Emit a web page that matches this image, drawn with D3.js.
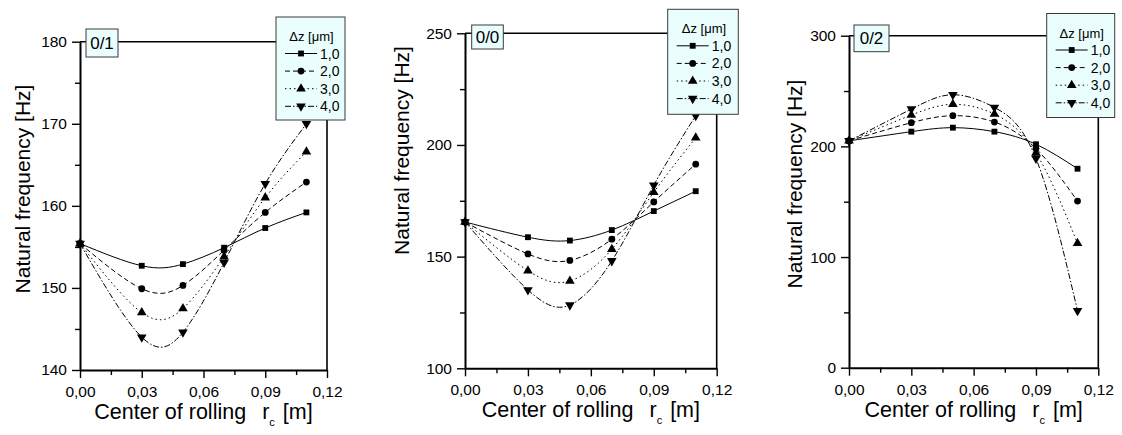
<!DOCTYPE html>
<html>
<head>
<meta charset="utf-8">
<script src="https://cdn.jsdelivr.net/npm/d3@7"></script>
<style>
  html, body { margin: 0; padding: 0; background: #fff; }
  svg { display: block; font-family: "Liberation Sans", Arial, sans-serif; }
</style>
</head>
<body>
<svg id="chart" width="1122" height="435"></svg>
<script>
// Center of rolling r_c [m] at which the natural frequency was computed
const xValues = [0, 0.03, 0.05, 0.07, 0.09, 0.11];

// Δz [µm] series labels
const seriesLabels = ["1,0", "2,0", "3,0", "4,0"];

// Mode labels of the three panels
const modeLabels = ["0/1", "0/0", "0/2"];

// Natural frequency [Hz], mode 0/1 (one row per Δz)
const freqMode01_dz1 = [155.4, 152.7, 152.9, 154.9, 157.3, 159.2];
const freqMode01_dz2 = [155.4, 149.9, 150.3, 154.6, 159.2, 162.9];
const freqMode01_dz3 = [155.4, 147.0, 147.5, 153.8, 161.0, 166.6];
const freqMode01_dz4 = [155.4, 144.0, 144.6, 153.1, 162.7, 170.0];

// Natural frequency [Hz], mode 0/0
const freqMode00_dz1 = [165.5, 158.7, 157.2, 161.9, 170.4, 179.3];
const freqMode00_dz2 = [165.5, 151.2, 148.3, 157.8, 174.5, 191.4];
const freqMode00_dz3 = [165.5, 143.7, 139.1, 153.3, 178.8, 203.2];
const freqMode00_dz4 = [165.5, 135.1, 128.3, 148.1, 182.0, 213.1];

// Natural frequency [Hz], mode 0/2
const freqMode02_dz1 = [205.0, 213.3, 216.9, 213.3, 201.9, 179.8];
const freqMode02_dz2 = [205.0, 221.4, 227.7, 222.0, 198.0, 150.6];
const freqMode02_dz3 = [205.0, 228.3, 238.0, 229.2, 194.0, 112.4];
const freqMode02_dz4 = [205.0, 233.7, 246.7, 235.2, 189.0, 51.5];

// Axis ticks
const xTickValues = [0, 0.03, 0.06, 0.09, 0.12];
const xTickLabels = ["0,00", "0,03", "0,06", "0,09", "0,12"];
const xMinorTicks = [0.015, 0.045, 0.075, 0.105];
const yTicksMode01 = [140, 150, 160, 170, 180];
const yMinorMode01 = [145, 155, 165, 175];
const yTicksMode00 = [100, 150, 200, 250];
const yMinorMode00 = [125, 175, 225];
const yTicksMode02 = [0, 100, 200, 300];
const yMinorMode02 = [50, 150, 250];

const panelsData = [
  { mode: modeLabels[0], series: [freqMode01_dz1, freqMode01_dz2, freqMode01_dz3, freqMode01_dz4],
    yTicks: yTicksMode01, yMinor: yMinorMode01 },
  { mode: modeLabels[1], series: [freqMode00_dz1, freqMode00_dz2, freqMode00_dz3, freqMode00_dz4],
    yTicks: yTicksMode00, yMinor: yMinorMode00 },
  { mode: modeLabels[2], series: [freqMode02_dz1, freqMode02_dz2, freqMode02_dz3, freqMode02_dz4],
    yTicks: yTicksMode02, yMinor: yMinorMode02 }
];

// Frame geometry of each panel (pixels)
const panelLayout = [
  { left: 80,  right: 327,    top: 41.7, bottom: 370,
    legend: { x: 276,    y: 17,   w: 69, h: 103 },
    tag:    { x: 86,     y: 29,   w: 32, h: 28 },
    yTitleX: 30,  yTitleY: 189 },
  { left: 465, right: 716.7,  top: 33.3, bottom: 368.3,
    legend: { x: 667.7,  y: 9.3,  w: 70.6, h: 105 },
    tag:    { x: 471.7,  y: 25,   w: 31.6, h: 24 },
    yTitleX: 409, yTitleY: 150.5 },
  { left: 849, right: 1098.3, top: 35.7, bottom: 367.7,
    legend: { x: 1046.7, y: 13.5, w: 68, h: 104 },
    tag:    { x: 854,    y: 25,   w: 35, h: 26.7 },
    yTitleX: 802, yTitleY: 184 }
];

// Line style and marker for each Δz series
const dashes = [null, "5,3", "1.5,3", "6,2,1.5,2"];
const symbols = [
  { type: d3.symbolSquare,   size: 34, rot: 0 },
  { type: d3.symbolCircle,   size: 36, rot: 0 },
  { type: d3.symbolTriangle, size: 40, rot: 0 },
  { type: d3.symbolTriangle, size: 40, rot: 180 }
];

const boxFill = "#eafefe";
const boxStroke = "#3a3a3a";

const svg = d3.select("#chart");

panelsData.forEach((pd, pi) => {
  const L = panelLayout[pi];
  const g = svg.append("g");

  const x = d3.scaleLinear().domain([0, 0.12]).range([L.left, L.right]);
  const yDom = d3.extent(pd.yTicks);
  const y = d3.scaleLinear().domain(yDom).range([L.bottom, L.top]);

  // Top and right frame lines
  g.append("line")
    .attr("x1", L.left).attr("x2", L.legend.x)
    .attr("y1", L.top).attr("y2", L.top)
    .attr("stroke", "#000").attr("stroke-width", 1.6);
  g.append("line")
    .attr("x1", L.right).attr("x2", L.right)
    .attr("y1", L.legend.y + L.legend.h).attr("y2", L.bottom)
    .attr("stroke", "#000").attr("stroke-width", 1.6);

  // Data curves
  const line = d3.line()
    .x((d, i) => x(xValues[i]))
    .y(d => y(d))
    .curve(d3.curveNatural);

  pd.series.forEach((vals, si) => {
    g.append("path")
      .attr("d", line(vals))
      .attr("fill", "none")
      .attr("stroke", "#000")
      .attr("stroke-width", 1)
      .attr("stroke-dasharray", dashes[si]);
  });

  pd.series.forEach((vals, si) => {
    const sym = d3.symbol().type(symbols[si].type).size(symbols[si].size);
    g.selectAll(null)
      .data(vals)
      .join("path")
      .attr("d", sym())
      .attr("transform", (d, i) => `translate(${x(xValues[i])},${y(d)}) rotate(${symbols[si].rot})`)
      .attr("fill", "#000");
  });

  // Bottom axis
  const xAxis = d3.axisBottom(x)
    .tickValues(xTickValues)
    .tickFormat((d, i) => xTickLabels[i])
    .tickSize(8).tickSizeOuter(0).tickPadding(8);
  const gx = g.append("g").attr("transform", `translate(0,${L.bottom})`).call(xAxis);
  gx.selectAll(".tick line").attr("stroke-width", 1.4);
  gx.select(".domain").attr("stroke-width", 2);
  gx.selectAll("text").attr("font-size", 15.5).attr("font-family", "Liberation Sans, Arial, sans-serif").attr("fill", "#000");
  const xMinor = d3.axisBottom(x).tickValues(xMinorTicks).tickFormat("").tickSize(5).tickSizeOuter(0);
  const gxm = g.append("g").attr("transform", `translate(0,${L.bottom})`).call(xMinor);
  gxm.select(".domain").remove();
  gxm.selectAll(".tick line").attr("stroke-width", 1.4);

  // Left axis
  const yAxis = d3.axisLeft(y)
    .tickValues(pd.yTicks)
    .tickFormat(d3.format("d"))
    .tickSize(8).tickSizeOuter(0).tickPadding(5);
  const gy = g.append("g").attr("transform", `translate(${L.left},0)`).call(yAxis);
  gy.selectAll(".tick line").attr("stroke-width", 1.4);
  gy.select(".domain").attr("stroke-width", 2);
  gy.selectAll("text").attr("font-size", 15.5).attr("font-family", "Liberation Sans, Arial, sans-serif").attr("fill", "#000");
  const yMinor = d3.axisLeft(y).tickValues(pd.yMinor).tickFormat("").tickSize(5).tickSizeOuter(0);
  const gym = g.append("g").attr("transform", `translate(${L.left},0)`).call(yMinor);
  gym.select(".domain").remove();
  gym.selectAll(".tick line").attr("stroke-width", 1.4);

  // Axis titles
  g.append("text")
    .attr("transform", `translate(${L.yTitleX},${L.yTitleY}) rotate(-90)`)
    .attr("text-anchor", "middle")
    .attr("font-size", 21)
    .text("Natural frequency [Hz]");

  const xt = g.append("text")
    .attr("x", (L.left + L.right) / 2)
    .attr("y", L.bottom + 49)
    .attr("text-anchor", "middle")
    .attr("font-size", 21.5);
  xt.append("tspan").text("Center of rolling");
  xt.append("tspan").attr("dx", 16).text("r");
  xt.append("tspan").attr("dy", 7).attr("font-size", 11).text("c");
  xt.append("tspan").attr("dy", -7).attr("dx", 8).text("[m]");

  // Mode tag box
  g.append("rect")
    .attr("x", L.tag.x).attr("y", L.tag.y)
    .attr("width", L.tag.w).attr("height", L.tag.h)
    .attr("fill", boxFill).attr("stroke", boxStroke).attr("stroke-width", 1);
  g.append("text")
    .attr("x", L.tag.x + L.tag.w / 2)
    .attr("y", L.tag.y + L.tag.h / 2)
    .attr("dy", "0.36em")
    .attr("text-anchor", "middle")
    .attr("font-size", 17)
    .text(pd.mode);

  // Legend
  const lg = g.append("g").attr("transform", `translate(${L.legend.x},${L.legend.y})`);
  lg.append("rect")
    .attr("width", L.legend.w).attr("height", L.legend.h)
    .attr("fill", boxFill).attr("stroke", boxStroke).attr("stroke-width", 1);
  lg.append("text")
    .attr("x", L.legend.w / 2 + 1).attr("y", 24)
    .attr("text-anchor", "middle")
    .attr("font-size", 13)
    .text("\u0394z [\u03bcm]");
  seriesLabels.forEach((lab, si) => {
    const cy = 36.5 + si * 17.6;
    lg.append("line")
      .attr("x1", 9).attr("x2", 41).attr("y1", cy).attr("y2", cy)
      .attr("stroke", "#000").attr("stroke-width", 1)
      .attr("stroke-dasharray", dashes[si]);
    lg.append("path")
      .attr("d", d3.symbol().type(symbols[si].type).size(symbols[si].size)())
      .attr("transform", `translate(25,${cy}) rotate(${symbols[si].rot})`)
      .attr("fill", "#000");
    lg.append("text")
      .attr("x", 44).attr("y", cy).attr("dy", "0.36em")
      .attr("font-size", 14)
      .text(lab);
  });
});
</script>
</body>
</html>
